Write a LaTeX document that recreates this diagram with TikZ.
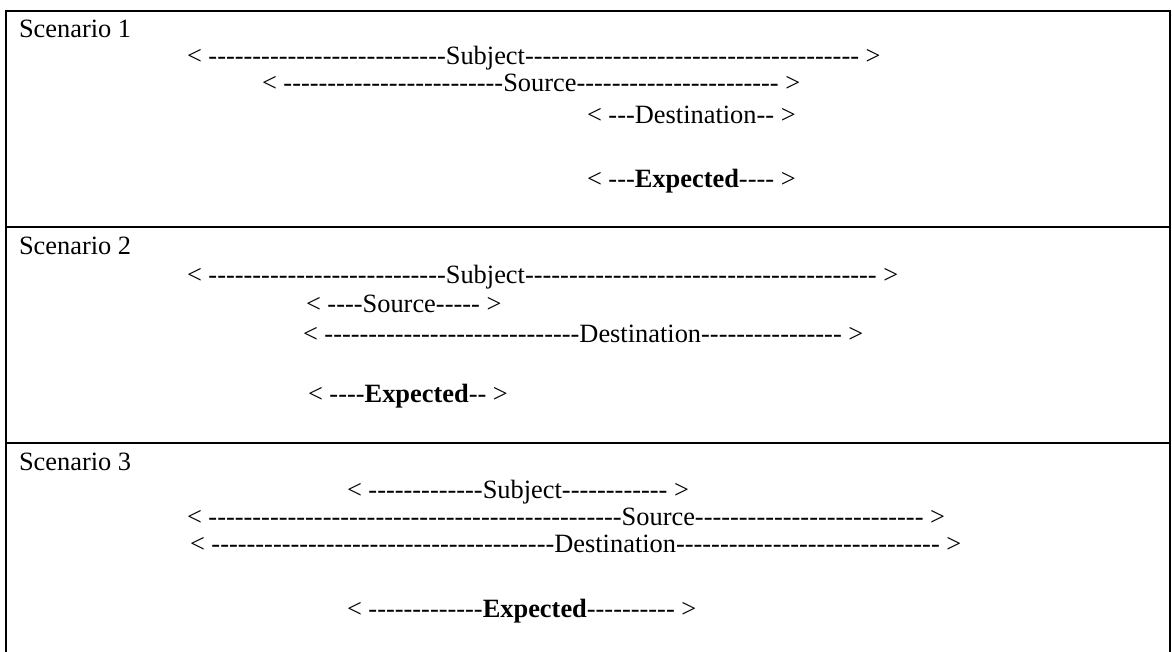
\documentclass[tikz,border=0pt]{standalone}
\usepackage{fontspec}
\setmainfont{Liberation Serif}
\ExplSyntaxOn
\NewDocumentCommand\dashrun{m}{\prg_replicate:nn{#1}{-\kern0pt\relax}}
\ExplSyntaxOff
\tikzset{
  seg/.style={inner sep=0pt, outer sep=0pt, anchor=base west, font=\fontsize{13.2}{15}\selectfont},
  rule/.style={line width=1.25pt, line cap=rect},
}
\begin{document}
\begin{tikzpicture}[x=0.5pt,y=-0.5pt]
\useasboundingbox (0,0) rectangle (1172,652);
% table rules
\draw[rule] (6,11) -- (1170,11);
\draw[rule] (6,227) -- (1170,227);
\draw[rule] (6,443) -- (1170,443);
\draw[rule] (6,11) -- (6,665);
\draw[rule] (1170,11) -- (1170,665);
% Scenario 1
\node[seg] (sc1) at (19,38) {Scenario 1};
\node[seg] (a1) at (187,65)  {< \dashrun{27}Subject\dashrun{38}\ >};
\node[seg] (a2) at (262,92)  {< \dashrun{25}Source\dashrun{23}\ >};
\node[seg] (a3) at (587,124) {< \dashrun{3}Destination\dashrun{2}\ >};
\node[seg] (a4) at (587,188) {< \dashrun{3}\textbf{Expected}\dashrun{4}\ >};
% Scenario 2
\node[seg] (sc2) at (19,255) {Scenario 2};
\node[seg] (b1) at (187,284) {< \dashrun{27}Subject\dashrun{40}\ >};
\node[seg] (b2) at (306,312) {< \dashrun{4}Source\dashrun{5}\ >};
\node[seg] (b3) at (303,342) {< \dashrun{29}Destination\dashrun{16}\ >};
\node[seg] (b4) at (308,402) {< \dashrun{4}\textbf{Expected}\dashrun{2}\ >};
% Scenario 3
\node[seg] (sc3) at (19,470) {Scenario 3};
\node[seg] (c1) at (347,498) {< \dashrun{13}Subject\dashrun{12}\ >};
\node[seg] (c2) at (187,525) {< \dashrun{47}Source\dashrun{26}\ >};
\node[seg] (c3) at (190,552) {< \dashrun{39}Destination\dashrun{30}\ >};
\node[seg] (c4) at (347,617) {< \dashrun{13}\textbf{Expected}\dashrun{10}\ >};
\end{tikzpicture}
\end{document}
